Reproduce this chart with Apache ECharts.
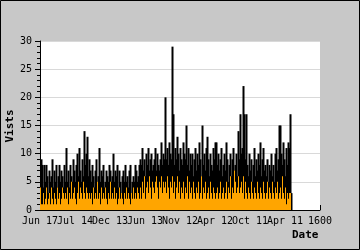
<!DOCTYPE html>
<html>
<head>
<meta charset="utf-8">
<script src="https://cdn.jsdelivr.net/npm/echarts@6/dist/echarts.min.js"></script>
<style>
html,body{margin:0;padding:0;background:#c8c8c8;}
#myChart{width:360px;height:250px;}
</style>
</head>
<body>
<div id="myChart"></div>
<script>
// tick labels along the date axis
var xLabels = ['Jun 17', 'Jul 14', 'Dec 13', 'Jun 13', 'Nov 12', 'Apr 12', 'Oct 11', 'Apr 11', '1600'];
var yTicks = [0, 5, 10, 15, 20, 25, 30];

// total visits per column (black)
var visits = [
  9,8,4,8,5,8,6,3,7,5,6,9,4,7,5,8,4,6,8,5,7,6,4,8,5,
  11,5,7,4,8,6,5,9,7,5,8,10,6,11,7,5,9,6,14,8,10,13,6,9,7,
  5,8,6,4,7,9,5,6,11,5,7,6,8,4,5,7,6,5,8,7,5,6,10,5,7,
  6,8,4,7,5,3,6,7,5,8,5,6,4,7,8,3,5,6,5,8,7,5,6,8,9,
  8,11,7,9,6,10,8,11,7,9,10,7,8,9,11,7,10,8,7,9,12,8,10,9,20,
  9,11,8,12,10,9,29,17,8,11,9,13,10,7,11,9,8,12,10,9,15,8,11,7,10,
  8,10,6,9,11,7,10,8,12,9,6,15,8,10,7,11,13,9,6,10,8,7,11,9,12,
  12,8,10,7,9,11,6,8,10,7,12,9,5,8,10,6,9,11,7,8,10,6,14,9,17,
  10,11,22,17,9,17,8,6,10,7,9,5,8,11,6,9,7,10,8,12,6,9,11,7,8,
  6,9,5,8,7,10,6,8,5,10,11,7,9,15,15,10,8,12,9,6,11,8,12,11,17,
  3
];
// unique visits per column (orange)
var unique = [
  4,1,1,3,1,2,4,1,2,3,1,4,2,1,3,2,1,4,2,3,1,2,4,3,2,
  3,2,4,1,3,2,5,2,3,4,2,1,3,5,2,4,3,2,5,3,2,4,3,2,3,
  2,3,1,4,2,3,2,5,2,3,1,4,2,3,2,4,2,1,3,2,5,2,3,2,4,
  2,3,1,2,4,2,3,2,1,3,2,4,2,3,2,1,3,2,4,2,3,2,4,3,2,
  4,2,5,3,6,2,4,5,3,6,4,2,5,4,3,5,6,4,2,5,4,6,3,5,4,
  5,3,6,4,2,5,4,6,3,5,2,4,6,3,5,2,4,3,5,2,4,3,6,2,5,
  3,4,2,5,3,2,4,3,5,2,3,6,2,4,3,5,2,3,4,2,5,3,2,4,3,
  2,3,4,2,3,5,2,3,4,2,3,5,2,4,3,6,2,4,3,7,5,3,4,6,3,
  4,5,3,6,2,5,3,2,4,3,2,5,3,2,4,3,2,5,3,2,4,3,2,5,3,
  2,3,5,2,4,3,2,5,3,2,4,3,5,2,3,4,2,6,3,2,4,1,3,2,3,
  3
];

var font = '"DejaVu Sans Mono", monospace';
var step = 35; // columns between date ticks
var axisMax = step * (xLabels.length - 1);

// column i starts at x = i; offset puts the bar centre where it stays crisp
function pairs(arr, offset) {
  return arr.map(function (v, i) { return [i + offset, v]; });
}

// labels overlap, so even and odd ones go on two stacked axes
function dateAxis(parity, visible) {
  return {
    type: 'value', position: 'bottom',
    min: 0, max: axisMax, interval: step,
    axisLine: {show: visible, lineStyle: {color: '#000'}},
    axisTick: {show: visible, inside: true, length: 5, lineStyle: {color: '#000'}},
    splitLine: {show: false},
    axisLabel: {
      color: '#000', fontFamily: font, fontSize: 10, margin: 6,
      showMinLabel: true, showMaxLabel: true,
      formatter: function (v) {
        var k = Math.round(v / step);
        return k % 2 === parity ? xLabels[k] : '';
      }
    }
  };
}

var option = {
  animation: false,
  backgroundColor: '#c8c8c8',
  grid: {
    left: 40, right: 40, top: 41, bottom: 40,
    outerBoundsMode: 'none', containLabel: false,
    show: true, backgroundColor: '#fff', borderWidth: 0
  },
  xAxis: [dateAxis(0, true), dateAxis(1, false)],
  yAxis: {
    type: 'value',
    min: yTicks[0], max: yTicks[yTicks.length - 1], interval: 5,
    axisLine: {show: true, lineStyle: {color: '#000'}},
    axisTick: {show: true, length: 5, lineStyle: {color: '#000'}},
    minorTick: {show: true, splitNumber: 5, length: 3, lineStyle: {color: '#000'}},
    splitLine: {lineStyle: {color: '#d9d9d9'}},
    axisLabel: {color: '#000', fontFamily: font, fontSize: 10, margin: 8}
  },
  series: [
    {
      name: 'visits', type: 'bar', data: pairs(visits, 1),
      barWidth: 2, itemStyle: {color: '#000'}, barGap: '-100%'
    },
    {
      name: 'unique', type: 'bar', data: pairs(unique, 0.5),
      barWidth: 1, itemStyle: {color: '#ffa500'}, barGap: '-100%'
    }
  ],
  graphic: [
    {type: 'text', x: 10, y: 126, rotation: Math.PI / 2,
     style: {text: 'Vists', fill: '#000', font: 'bold 11px ' + font,
             align: 'center', verticalAlign: 'middle'}},
    {type: 'text', left: 292, top: 230,
     style: {text: 'Date', fill: '#000', font: 'bold 11px ' + font}},
    {type: 'rect', shape: {x: 0.5, y: 0.5, width: 359, height: 249},
     style: {fill: null, stroke: '#000', lineWidth: 1}}
  ]
};

var myChart = echarts.init(document.getElementById('myChart'));
myChart.setOption(option);
</script>
</body>
</html>
